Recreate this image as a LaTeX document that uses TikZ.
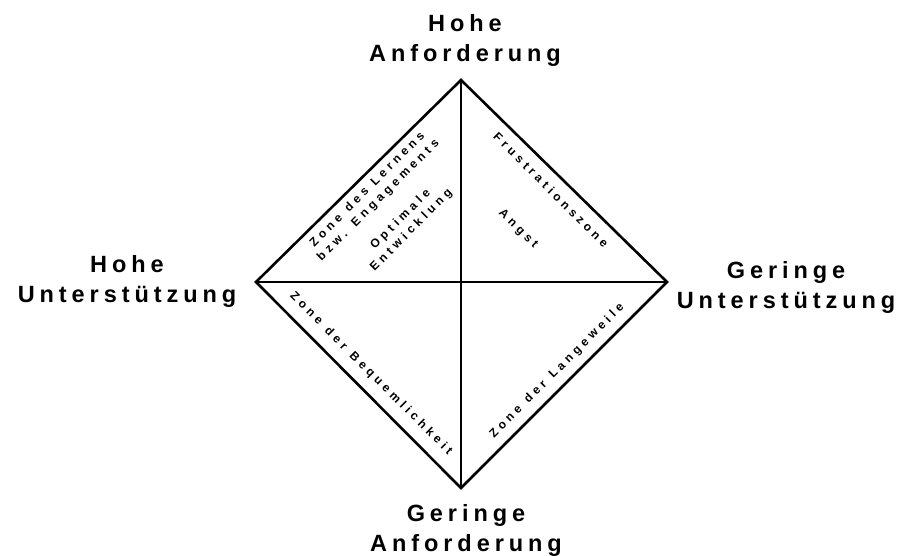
\documentclass[tikz,border=0pt]{standalone}
\usepackage{fontspec}
\setmainfont{Liberation Sans}
\usepackage{tikz}
\usetikzlibrary{positioning,calc}
\definecolor{ink}{RGB}{0,0,0}
\newcommand\zonefont{\bfseries\fontsize{12}{15.3}\selectfont
  \addfontfeatures{LetterSpace=33}\spaceskip=0.7em\relax}

\begin{document}
\begin{tikzpicture}[
  x=1pt, y=-1pt,
  edge/.style={draw=ink, line width=2.6pt},
  corner/.style={align=center, inner sep=0pt, text=ink,
    font=\bfseries\fontsize{23.5}{30}\selectfont\addfontfeatures{LetterSpace=21}},
  zone/.style={align=center, inner sep=0pt, text=ink, font=\zonefont},
]
\useasboundingbox (0,0) rectangle (901,555);
\coordinate (top) at (461,80);
\coordinate (bottom) at (461,488);
\coordinate (left) at (256,282);
\coordinate (right) at (667,282);
% diamond and axes
\draw[edge] (top) -- (right) -- (bottom) -- (left) -- cycle;
\draw[edge] (left) -- (right);
\draw[edge] (top) -- (bottom);
% corner labels
\node[corner] (hiload) at (465,40.7) {Hohe\\Anforderung};
\node[corner] (loload) at (466,530.5) {Geringe\\Anforderung};
\node[corner] (hisupp) at (127,281.5) {Hohe\\Unterstützung};
\node[corner] (losupp) at (786,287.7) {Geringe\\Unterstützung};
% zones
\node[zone, rotate=45] (learn) at (373,195) {Zone des Lernens\\bzw. Engagements};
\node[zone, rotate=45] (optim) at (406,225) {Optimale\\Entwicklung};
\node[zone, rotate=-45] (frust) at (551,190) {Frustrationszone};
\node[zone, rotate=-45] (angst) at (518,229) {Angst};
\node[zone, rotate=-45] (comfort) at (371,374) {Zone der Bequemlichkeit};
\node[zone, rotate=45] (bored) at (557,371) {Zone der Langeweile};
\end{tikzpicture}
\end{document}
